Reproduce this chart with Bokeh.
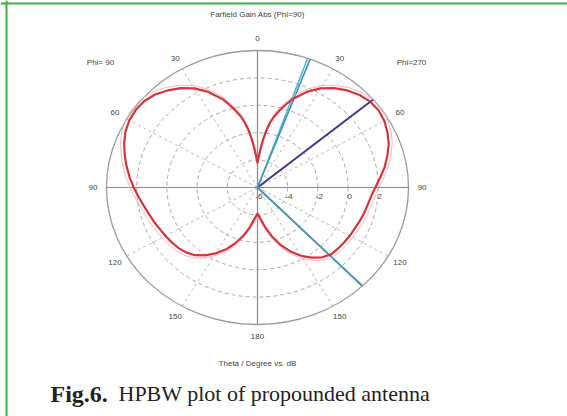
import numpy as np
from bokeh.plotting import figure
from bokeh.models import Span
from bokeh.core.properties import value
from bokeh.embed import file_html
from bokeh.resources import INLINE

# ---------------- data ----------------
theta_deg = [0, 2, 4, 6, 8, 10, 12, 15, 18, 20, 25, 30, 35, 40, 45, 50, 55, 60,
             65, 70, 75, 80, 85, 90, 95, 100, 105, 110, 115, 120, 125, 130, 135,
             140, 145, 150, 155, 160, 165, 170, 175, 180]
gain_phi270 = [-4.2, -3.8, -3.2, -2.5, -1.8, -1.2, -0.7, -0.1, 0.5, 0.9, 1.7, 2.35,
               2.85, 3.25, 3.55, 3.75, 3.8, 3.7, 3.5, 3.25, 2.9, 2.55, 2.15, 1.8,
               1.55, 1.4, 1.3, 1.2, 1.1, 1.05, 1.0, 0.95, 0.9, 0.65, 0.25, -0.25,
               -0.85, -1.55, -2.3, -3.05, -3.7, -4.1]
gain_phi90 = [-4.2, -3.8, -3.2, -2.5, -1.8, -1.2, -0.7, -0.1, 0.5, 0.9, 1.7, 2.35,
              2.85, 3.25, 3.6, 3.8, 3.85, 3.8, 3.65, 3.4, 3.1, 2.8, 2.5, 2.2,
              1.9, 1.65, 1.45, 1.3, 1.15, 1.05, 0.95, 0.85, 0.7, 0.45, 0.05, -0.45,
              -1.0, -1.65, -2.35, -3.05, -3.7, -4.1]
ring_db = [-4, -2, 0, 2]
ring_labels = ["-6", "-4", "-2", "0", "2"]
ring_label_db = [-6, -4, -2, 0, 2]
angle_ticks = [0, 30, 60, 90, 120, 150, 180]
spoke_angles = [30, 60, 120, 150]
r_min, r_max = -6.0, 4.0
hpbw_max_deg = 50
hpbw_lo_deg = 20
hpbw_hi_deg = 136

# ---------------- geometry ----------------
W, H = 567, 416
cx, cy = 257.0, 187.0
sx, sy = 15.1, 13.7  # px per dB unit


def rr(db):
    return np.asarray(db, dtype=float) - r_min


def pol(th_deg, db, side=1):
    t = np.radians(np.asarray(th_deg, dtype=float))
    r = rr(db)
    return side * r * np.sin(t), r * np.cos(t)


def px(x, y):
    return (x - cx) / sx, (cy - y) / sy


p = figure(width=W, height=H, output_backend="svg", toolbar_location=None,
           x_range=((0 - cx) / sx, (W - cx) / sx),
           y_range=((cy - H) / sy, cy / sy),
           min_border=0)
p.axis.visible = False
p.grid.visible = False
p.outline_line_color = None
p.background_fill_color = "white"
p.border_fill_color = "white"

R = r_max - r_min

# rings
for d in ring_db:
    p.ellipse(x=0, y=0, width=2 * rr(d), height=2 * rr(d), fill_color=None,
              line_color="#a8a8a8", line_dash="4 3", line_width=1)
p.ellipse(x=0, y=0, width=2 * R, height=2 * R, fill_color=None,
          line_color="#9a9a9a", line_width=1.3)

# spokes
for a in spoke_angles:
    for s in (1, -1):
        x1, y1 = pol([a], [r_max], s)
        p.segment(x0=0, y0=0, x1=x1[0], y1=y1[0], line_color="#b8b8b8",
                  line_dash="3 3", line_width=1)
# main axes
p.segment(x0=[-R, 0], y0=[0, -R], x1=[R, 0], y1=[0, R], line_color="#8a8a8a",
          line_width=1.2)

# HPBW lines
xa, ya = pol([hpbw_max_deg], [r_max])
p.segment(x0=0, y0=0, x1=xa[0], y1=ya[0], line_color="#3a3a8c", line_width=2)
xb, yb = pol([hpbw_lo_deg - 0.6], [r_max])
p.segment(x0=0, y0=0, x1=xb[0], y1=yb[0], line_color="#5ab4e0", line_width=1.6)
xb, yb = pol([hpbw_lo_deg + 0.4], [r_max])
p.segment(x0=0, y0=0, x1=xb[0], y1=yb[0], line_color="#3a98a8", line_width=1.6)
xc, yc = pol([hpbw_hi_deg], [r_max])
p.segment(x0=0, y0=0, x1=xc[0], y1=yc[0], line_color="#4a94b0", line_width=2)

# gain curve (faint companion trace + main trace)
xr, yr = pol(theta_deg, gain_phi270, 1)
xl, yl = pol(theta_deg, gain_phi90, -1)
xs = list(xl[::-1]) + list(xr)
ys = list(yl[::-1]) + list(yr)
xs = xs + [xs[0]]
ys = ys + [ys[0]]
xr2, yr2 = pol(theta_deg, np.array(gain_phi270) + 0.25, 1)
xl2, yl2 = pol(theta_deg, np.array(gain_phi90) + 0.25, -1)
p.line(list(xl2[::-1]) + list(xr2), list(yl2[::-1]) + list(yr2),
       line_color="#f2a6ae", line_width=1, line_alpha=0.8)
p.line(xs, ys, line_color="#d3343e", line_width=2.2, line_join="round")

font = value("Liberation Sans")
tc = "#444444"

# angle labels
lab_r = R * 1.09 + r_min
for a in angle_ticks:
    sides = (1,) if a in (0, 180) else (1, -1)
    for s in sides:
        x, y = pol([a], [lab_r], s)
        p.text(x=[x[0]], y=[y[0]], text=[str(a)], text_font=font,
               text_font_size="8px", text_color=tc, text_align="center",
               text_baseline="middle")

# ring labels
for d, t in zip(ring_label_db, ring_labels):
    p.text(x=[rr(d) + 0.1], y=[-0.65], text=[t], text_font=font,
           text_font_size="8px", text_color=tc, text_align="center",
           text_baseline="middle")

# other texts
x, y = px(cx, 14)
p.text(x=[x], y=[y], text=["Farfield Gain Abs (Phi=90)"], text_font=font,
       text_font_size="8px", text_color=tc, text_align="center", text_baseline="middle")
x, y = px(100, 62)
p.text(x=[x], y=[y], text=["Phi= 90"], text_font=font, text_font_size="8px",
       text_color=tc, text_align="center", text_baseline="middle")
x, y = px(411, 62)
p.text(x=[x], y=[y], text=["Phi=270"], text_font=font, text_font_size="8px",
       text_color=tc, text_align="center", text_baseline="middle")
x, y = px(cx, 363)
p.text(x=[x], y=[y], text=["Theta / Degree vs. dB"], text_font=font,
       text_font_size="8px", text_color=tc, text_align="center", text_baseline="middle")

# caption
x, y = px(50, 393)
p.text(x=[x], y=[y], text=["Fig.6."], text_font=value("Liberation Serif"),
       text_font_size="24px", text_font_style="bold", text_color="#222222",
       text_align="left", text_baseline="middle")
x2, _ = px(118, 393)
p.text(x=[x2], y=[y], text=["HPBW plot of propounded antenna"],
       text_font=value("Liberation Serif"), text_font_size="22px",
       text_color="#222222", text_align="left", text_baseline="middle")

# green frame
gx, _ = px(6, 0)
_, gy = px(0, 3)
p.add_layout(Span(location=gx, dimension="height", line_color="#3cb043", line_width=2))
p.add_layout(Span(location=gy, dimension="width", line_color="#3cb043", line_width=2))

open("out.html", "w").write(file_html(p, INLINE))
